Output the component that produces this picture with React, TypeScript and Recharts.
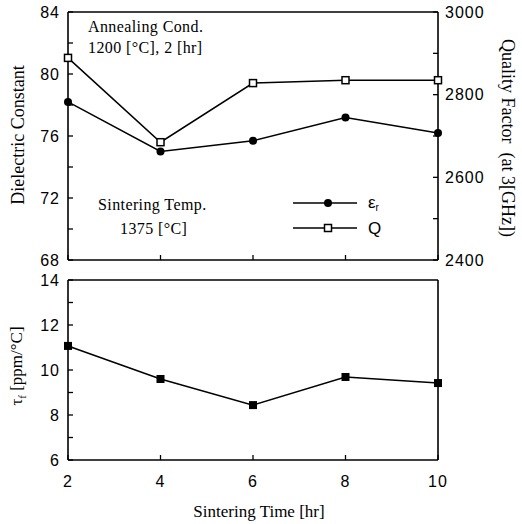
import React from 'react';
import { LineChart, Line, XAxis, YAxis, ReferenceLine } from 'recharts';

// sintering time [hr]
const sinteringTime = [2, 4, 6, 8, 10];
// top panel
const dielectricConstant = [78.2, 75.0, 75.7, 77.2, 76.2];
const qualityFactor = [2889, 2685, 2828, 2835, 2835];
// bottom panel
const tauF = [11.07, 9.6, 8.44, 9.69, 9.42];

const timeTicks = [2, 4, 6, 8, 10];
const epsTicks = [68, 70, 72, 74, 76, 78, 80, 82, 84];
const qTicks = [2400, 2500, 2600, 2700, 2800, 2900, 3000];
const tauTicks = [6, 7, 8, 9, 10, 11, 12, 13, 14];

const topData = sinteringTime.map((t, i) => ({ t, eps: dielectricConstant[i], q: qualityFactor[i] }));
const bottomData = sinteringTime.map((t, i) => ({ t, tau: tauF[i] }));

const tickFont = { fill: '#000', fontSize: 16, fontFamily: 'Liberation Sans', letterSpacing: 1 };
const tickLineStyle = { stroke: '#000', strokeWidth: 1.3 };
const axisLineStyle = { stroke: '#000', strokeWidth: 1.6 };
const serif = 'Liberation Serif';

const CircleDot = (p: any) => <circle key={`c${p.index}`} cx={p.cx} cy={p.cy} r={4} fill="#000" />;
const OpenSquare = (p: any) => (
  <rect key={`o${p.index}`} x={p.cx - 3.5} y={p.cy - 3.5} width={7} height={7} fill="#fff" stroke="#000" strokeWidth={1.5} />
);
const FilledSquare = (p: any) => (
  <rect key={`f${p.index}`} x={p.cx - 4} y={p.cy - 4} width={8} height={8} fill="#000" />
);

const abs = (left: number, top: number, size: number, extra: React.CSSProperties = {}): React.CSSProperties => ({
  position: 'absolute',
  left,
  top,
  fontFamily: serif,
  fontSize: size,
  lineHeight: 1,
  whiteSpace: 'nowrap',
  color: '#000',
  ...extra,
});

const rotated = (cx: number, cy: number, deg: number, size: number): React.CSSProperties => ({
  ...abs(cx, cy, size),
  transform: `translate(-50%, -50%) rotate(${deg}deg)`,
});

export default function App() {
  return (
    <div style={{ position: 'absolute', left: 0, top: 0, width: 522, height: 524, background: '#fff' }}>
      <div style={{ position: 'absolute', left: 0, top: 0 }}>
        <LineChart width={522} height={272} data={topData} margin={{ top: 12, right: 0, bottom: 0, left: 0 }}>
          <XAxis
            dataKey="t"
            type="number"
            domain={[2, 10]}
            ticks={timeTicks}
            interval={0}
            height={12}
            tickSize={-5}
            tickFormatter={() => ''}
            axisLine={axisLineStyle}
            tickLine={tickLineStyle}
          />
          <YAxis
            yAxisId="left"
            domain={[68, 84]}
            ticks={epsTicks}
            interval={0}
            width={68}
            tickSize={-5}
            tickMargin={13}
            tick={tickFont}
            tickFormatter={(v: number) => (v % 4 === 0 ? String(v) : '')}
            axisLine={axisLineStyle}
            tickLine={tickLineStyle}
          />
          <YAxis
            yAxisId="q"
            orientation="right"
            domain={[2400, 3000]}
            ticks={qTicks}
            interval={0}
            width={84}
            tickSize={-5}
            tickMargin={12}
            tick={tickFont}
            tickFormatter={(v: number) => (v % 200 === 0 ? String(v) : '')}
            axisLine={axisLineStyle}
            tickLine={tickLineStyle}
          />
          <ReferenceLine yAxisId="left" y={84} stroke="#000" strokeWidth={1.6} />
          <Line yAxisId="left" type="linear" dataKey="eps" stroke="#000" strokeWidth={1.5} dot={CircleDot} isAnimationActive={false} />
          <Line yAxisId="q" type="linear" dataKey="q" stroke="#000" strokeWidth={1.5} dot={OpenSquare} isAnimationActive={false} />
        </LineChart>
      </div>

      <div style={{ position: 'absolute', left: 0, top: 268 }}>
        <LineChart width={522} height={256} data={bottomData} margin={{ top: 12, right: 84, bottom: 0, left: 0 }}>
          <XAxis
            dataKey="t"
            type="number"
            domain={[2, 10]}
            ticks={timeTicks}
            interval={0}
            height={64}
            tickSize={-5}
            tickMargin={21}
            tick={tickFont}
            axisLine={axisLineStyle}
            tickLine={tickLineStyle}
          />
          <YAxis
            domain={[6, 14]}
            ticks={tauTicks}
            interval={0}
            width={68}
            tickSize={-5}
            tickMargin={13}
            tick={tickFont}
            tickFormatter={(v: number) => (v % 2 === 0 ? String(v) : '')}
            axisLine={axisLineStyle}
            tickLine={tickLineStyle}
          />
          <ReferenceLine y={14} stroke="#000" strokeWidth={1.6} />
          <ReferenceLine x={10} stroke="#000" strokeWidth={1.6} />
          <Line type="linear" dataKey="tau" stroke="#000" strokeWidth={1.5} dot={FilledSquare} isAnimationActive={false} />
        </LineChart>
      </div>

      {/* annotations */}
      <div style={abs(88, 19, 16, { letterSpacing: 0.4 })}>Annealing Cond.</div>
      <div style={abs(88, 40, 16, { letterSpacing: 0.4 })}>1200 [°C], 2 [hr]</div>
      <div style={abs(98, 197, 16, { letterSpacing: 0.4 })}>Sintering Temp.</div>
      <div style={abs(120, 221, 16, { letterSpacing: 0.4 })}>1375 [°C]</div>

      {/* legend */}
      <svg style={{ position: 'absolute', left: 285, top: 188 }} width={110} height={52}>
        <line x1={8} y1={15} x2={72} y2={15} stroke="#000" strokeWidth={1.5} />
        <circle cx={43} cy={15} r={4} fill="#000" />
        <line x1={8} y1={40} x2={72} y2={40} stroke="#000" strokeWidth={1.5} />
        <rect x={39.5} y={36.5} width={7} height={7} fill="#fff" stroke="#000" strokeWidth={1.5} />
        <text x={83} y={20} fontFamily="Liberation Sans" fontSize={17}>
          ε<tspan fontSize={10} dy={3}>r</tspan>
        </text>
        <text x={83} y={46} fontFamily="Liberation Sans" fontSize={17}>Q</text>
      </svg>

      {/* axis titles */}
      <div style={rotated(18, 135, -90, 18)}>Dielectric Constant</div>
      <div style={rotated(508, 138, 90, 18)}>Quality Factor&nbsp;&nbsp;(at 3[GHz])</div>
      <div style={rotated(18, 366, -90, 17)}>
        τ<sub style={{ fontSize: 11 }}>f</sub> [ppm/°C]
      </div>
      <div style={abs(259, 503, 17, { transform: 'translateX(-50%)' })}>Sintering Time [hr]</div>
    </div>
  );
}
